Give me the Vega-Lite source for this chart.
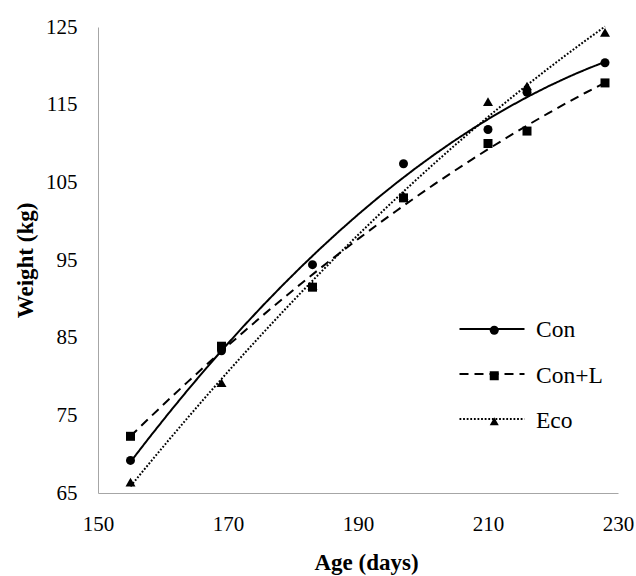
{
  "$schema": "https://vega.github.io/schema/vega-lite/v6.json",
  "width": 520,
  "height": 466,
  "autosize": "none",
  "padding": {"left": 98, "top": 27, "right": 18, "bottom": 83},
  "background": "white",
  "config": {
    "view": {"stroke": null},
    "font": "Liberation Serif",
    "axis": {
      "labelFont": "Liberation Serif",
      "titleFont": "Liberation Serif",
      "labelFontSize": 21,
      "titleFontSize": 23,
      "labelColor": "black",
      "titleColor": "black",
      "titleFontWeight": "bold",
      "domainColor": "#A6A6A6",
      "domainWidth": 1,
      "ticks": false,
      "grid": false,
      "labelFlush": false,
      "labelOverlap": false
    },
    "legend": {
      "labelFont": "Liberation Serif"
    }
  },
  "data": {
    "values": [
      {"series": "Eco", "age": 155, "weight": 66.4},
      {"series": "Eco", "age": 169, "weight": 79.2},
      {"series": "Eco", "age": 183, "weight": 91.7},
      {"series": "Eco", "age": 197, "weight": 103.3},
      {"series": "Eco", "age": 210, "weight": 115.4},
      {"series": "Eco", "age": 216, "weight": 117.4},
      {"series": "Eco", "age": 228, "weight": 124.3},
      {"series": "Con+L", "age": 155, "weight": 72.3},
      {"series": "Con+L", "age": 169, "weight": 83.9},
      {"series": "Con+L", "age": 183, "weight": 91.5},
      {"series": "Con+L", "age": 197, "weight": 103.0},
      {"series": "Con+L", "age": 210, "weight": 110.0},
      {"series": "Con+L", "age": 216, "weight": 111.6},
      {"series": "Con+L", "age": 228, "weight": 117.8},
      {"series": "Con", "age": 155, "weight": 69.2},
      {"series": "Con", "age": 169, "weight": 83.3},
      {"series": "Con", "age": 183, "weight": 94.4},
      {"series": "Con", "age": 197, "weight": 107.4},
      {"series": "Con", "age": 210, "weight": 111.8},
      {"series": "Con", "age": 216, "weight": 116.6},
      {"series": "Con", "age": 228, "weight": 120.4}
    ]
  },
  "encoding": {
    "x": {
      "field": "age",
      "type": "quantitative",
      "scale": {"domain": [150, 230], "nice": false, "zero": false},
      "axis": {"title": "Age (days)", "values": [150, 170, 190, 210, 230], "labelPadding": 20, "titlePadding": 17, "titleX": 268}
    },
    "y": {
      "field": "weight",
      "type": "quantitative",
      "scale": {"domain": [65, 125], "nice": false, "zero": false},
      "axis": {"title": "Weight (kg)", "values": [65, 75, 85, 95, 105, 115, 125], "labelPadding": 21, "titlePadding": 8}
    }
  },
  "layer": [
    {
      "transform": [
        {"regression": "weight", "on": "age", "groupby": ["series"], "method": "poly", "order": 2, "extent": [155, 228]}
      ],
      "mark": {"type": "line", "color": "black", "strokeWidth": 2},
      "encoding": {
        "strokeDash": {
          "field": "series",
          "type": "nominal",
          "scale": {"range": [[1, 0], [9, 6], [1.8, 1.8]]},
          "legend": {
            "title": null,
            "orient": "none",
            "legendX": 360.5,
            "legendY": 268.5,
            "padding": 0,
            "symbolType": "stroke",
            "symbolSize": 4225,
            "symbolStrokeWidth": 2,
            "symbolStrokeColor": "black",
            "labelFontSize": 22,
            "labelExpr": "''",
            "rowPadding": -23
          }
        }
      }
    },
    {
      "mark": {"type": "point", "filled": true, "color": "black", "opacity": 0},
      "encoding": {
        "shape": {
          "field": "series",
          "type": "nominal",
          "scale": {"domain": ["Con", "Con+L", "Eco"], "range": ["circle", "square", "triangle-up"]},
          "legend": {
            "title": null,
            "orient": "none",
            "legendX": 384.5,
            "legendY": 291.5,
            "padding": 0,
            "symbolSize": 81,
            "symbolStrokeWidth": 3,
            "labelFontSize": 23.5,
            "labelColor": "black",
            "labelOffset": 30,
            "labelBaseline": "middle",
            "rowPadding": 20.5,
            "encode": {
              "symbols": {
                "fill": {"value": "black"},
                "stroke": {"value": "white"},
                "strokeWidth": {"value": 3},
                "opacity": {"value": 1},
                "fillOpacity": {"value": 1},
                "strokeOpacity": {"value": 1}
              }
            }
          }
        }
      }
    },
    {
      "transform": [{"filter": "datum.series == 'Eco'"}],
      "mark": {"type": "point", "shape": "triangle-up", "filled": true, "color": "black", "opacity": 1, "size": 100}
    },
    {
      "transform": [{"filter": "datum.series == 'Con+L'"}],
      "mark": {"type": "point", "shape": "square", "filled": true, "color": "black", "opacity": 1, "size": 81}
    },
    {
      "transform": [{"filter": "datum.series == 'Con'"}],
      "mark": {"type": "point", "shape": "circle", "filled": true, "color": "black", "opacity": 1, "size": 81}
    }
  ]
}
